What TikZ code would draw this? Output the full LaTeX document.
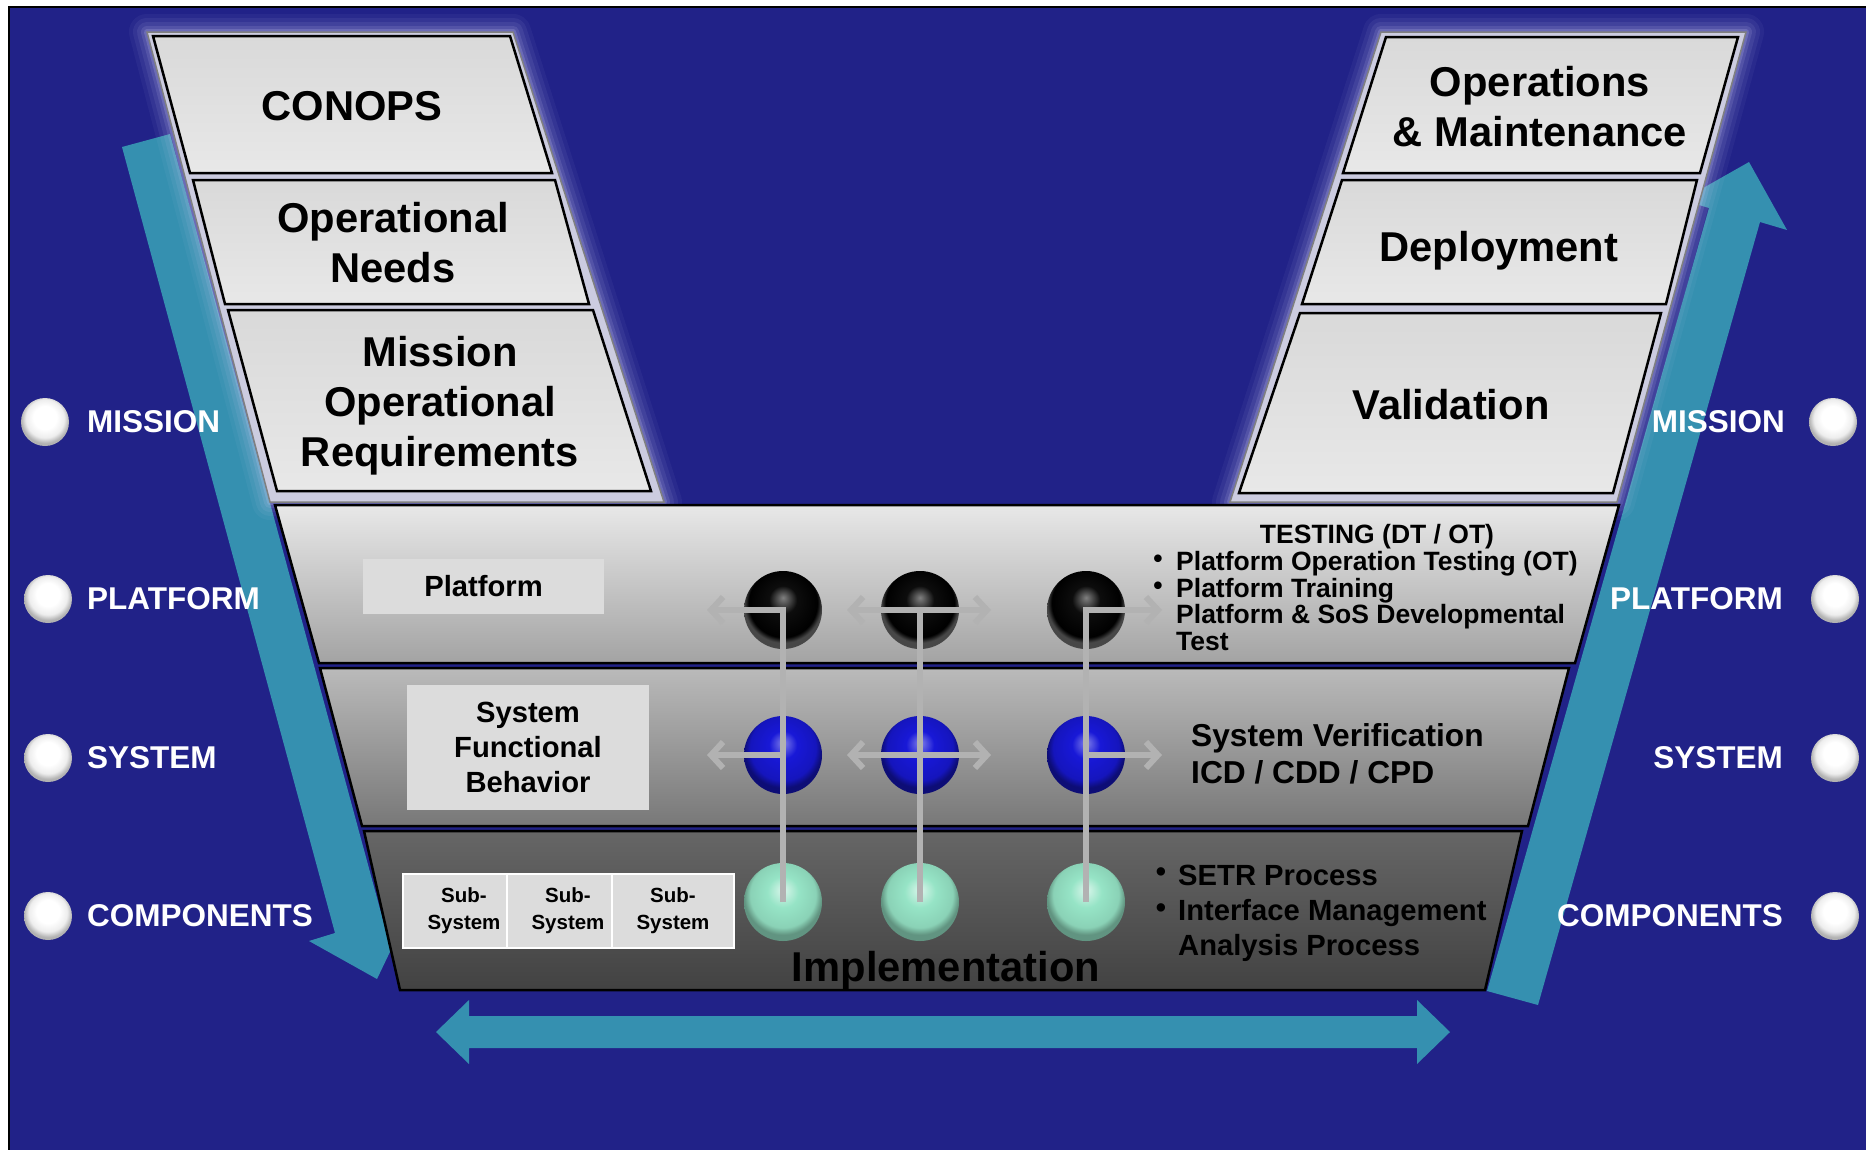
\documentclass[tikz,border=0pt]{standalone}
\usepackage{fontspec}
\setmainfont{Liberation Sans}
\usetikzlibrary{arrows.meta}

\definecolor{bgblue}{RGB}{33,34,136}
\definecolor{vteal}{RGB}{53,144,176}
\definecolor{boxgray}{RGB}{217,217,217}
\definecolor{boxlight}{RGB}{232,232,232}
\definecolor{framelav}{RGB}{204,204,224}
\definecolor{glowcol}{RGB}{205,205,245}
\definecolor{linkgray}{RGB}{178,178,178}
\definecolor{mint}{RGB}{150,228,198}
\definecolor{ballblue}{RGB}{24,24,215}
\definecolor{labelgray}{RGB}{220,220,220}

% glossy sphere shadings (the circle edge sits at 25bp)
\pgfdeclareradialshading{whiteball}{\pgfpoint{0bp}{6bp}}{color(0bp)=(white); color(12bp)=(white); color(20bp)=(black!7); color(25bp)=(black!30); color(50bp)=(black!30)}
\pgfdeclareradialshading{blackball}{\pgfpoint{0bp}{8bp}}{color(0bp)=(black!50); color(9bp)=(black!95); color(22bp)=(black); color(25bp)=(black!72); color(50bp)=(black!72)}
\pgfdeclareradialshading{blueball}{\pgfpoint{0bp}{8bp}}{color(0bp)=(ballblue!55!white); color(9bp)=(ballblue); color(21bp)=(ballblue!88!black); color(25bp)=(ballblue!55!black); color(50bp)=(ballblue!55!black)}
\pgfdeclareradialshading{mintball}{\pgfpoint{0bp}{8bp}}{color(0bp)=(mint!35!white); color(10bp)=(mint); color(21bp)=(mint!92!black); color(25bp)=(mint!65!black); color(50bp)=(mint!65!black)}

\tikzset{
  stackframe/.style={draw=black!50, line width=1.5pt, fill=framelav},
  phasebox/.style={draw=black, line width=2.5pt, top color=boxgray, middle color=boxgray, bottom color=boxlight},
  layer/.style={draw=black, line width=2.5pt},
  phasetext/.style={font=\bfseries\fontsize{41.7}{50}\selectfont, align=center, inner sep=0pt},
  labelbox/.style={fill=labelgray, inner sep=0pt, align=center, font=\bfseries\fontsize{29.2}{35}\selectfont},
  subbox/.style={fill=labelgray, draw=white, line width=2.5pt, inner sep=0pt, minimum width=122pt, minimum height=74pt, align=center, font=\bfseries\fontsize{20.5}{27}\selectfont},
  sidelabel/.style={text=white, inner sep=0pt, font=\bfseries\fontsize{31.5}{36}\selectfont},
  levelball/.style={circle, minimum size=48pt, inner sep=0pt, shading=whiteball},
  vball/.style={circle, minimum size=78pt, inner sep=0pt},
  link/.style={draw=linkgray, line width=6pt, line join=miter},
  headR/.style={-{Straight Barb[length=12pt,width=26pt]}},
  headLR/.style={{Straight Barb[length=12pt,width=26pt]}-{Straight Barb[length=12pt,width=26pt]}},
  notefont/.style={inner sep=0pt, align=left, font=\bfseries\fontsize{26.5}{26.7}\selectfont},
  verfont/.style={inner sep=0pt, align=left, font=\bfseries\fontsize{31.7}{37}\selectfont},
  setrfont/.style={inner sep=0pt, align=left, font=\bfseries\fontsize{29.2}{35}\selectfont},
}

\def\leftframe{(147,32) -- (513,32) -- (664,502) -- (270,502) -- cycle}
\def\rightframe{(1381,32) -- (1746,32) -- (1617,502) -- (1230,502) -- cycle}

\begin{document}
\begin{tikzpicture}[x=1pt,y=-1pt]
\useasboundingbox (0,0) rectangle (1866,1149);
\fill[white] (0,0) rectangle (1866,1149);
\draw[fill=bgblue, draw=black, line width=1.5pt] (9,7) rectangle (1872,1155);

% descending (decomposition) arrow on the left
\fill[vteal] (122,147) -- (170,134) -- (383,920) -- (409,912) -- (377,979)
  -- (309,941) -- (335,933) -- cycle;
% ascending (integration) arrow on the right
\fill[vteal] (1487,991) -- (1709,208) -- (1682,200) -- (1749,162) -- (1787,230)
  -- (1760,222) -- (1538,1005) -- cycle;

% soft halo around the two phase stacks
\foreach \w/\o in {36/0.05, 28/0.07, 20/0.09, 12/0.13, 6/0.2} {
  \draw[draw=glowcol, line width=\w pt, opacity=\o, line join=round] \leftframe;
  \draw[draw=glowcol, line width=\w pt, opacity=\o, line join=round] \rightframe;
}

% left stack: definition phases
\draw[stackframe] \leftframe;
\draw[phasebox] (153,36) -- (510,36) -- (552,173) -- (190,173) -- cycle;
\draw[phasebox] (193,180) -- (555,180) -- (589,304) -- (225,304) -- cycle;
\draw[phasebox] (228,310) -- (593,310) -- (651,491) -- (277,491) -- cycle;
\node[phasetext] (conops) at (352,106) {CONOPS};
\node[phasetext] (opneeds) at (393,243) {Operational\\Needs};
\node[phasetext] (mor) at (440,406) {Mission\\Operational\\Requirements};

% right stack: realisation phases
\draw[stackframe] \rightframe;
\draw[phasebox] (1386,37) -- (1738,37) -- (1700,173) -- (1343,173) -- cycle;
\draw[phasebox] (1342,180) -- (1697,180) -- (1666,304) -- (1302,304) -- cycle;
\draw[phasebox] (1300,313) -- (1661,313) -- (1613,493) -- (1239,493) -- cycle;
\node[phasetext] (om) at (1540,107) {Operations\\\& Maintenance};
\node[phasetext] (deploy) at (1499,251) {Deployment};
\node[phasetext] (valid) at (1451,405) {Validation};

% the three levels of the V
\draw[layer, top color=black!9, middle color=black!11, bottom color=black!36]
  (275,505) -- (1619,505) -- (1575,663) -- (319,663) -- cycle;
\draw[layer, top color=black!27, middle color=black!32, bottom color=black!53]
  (320,668) -- (1569,668) -- (1528,826) -- (362,826) -- cycle;
\draw[layer, top color=black!60, bottom color=black!74]
  (364,831) -- (1522,831) -- (1485,990) -- (400,990) -- cycle;

\node[labelbox, minimum width=241pt, minimum height=55pt] (platbox) at (483.5,586) {Platform};
\node[labelbox, minimum width=242pt, minimum height=125pt] (sfbbox) at (528,747) {System\\Functional\\Behavior};
\node[subbox] (sub1) at (464,911) {Sub-\\System};
\node[subbox] (sub2) at (568,911) {Sub-\\System};
\node[subbox] (sub3) at (673,911) {Sub-\\System};
\node[phasetext] (impl) at (946,971) {Implementation};

% level nodes
\node[vball, shading=blackball] (p1) at (783,610) {};
\node[vball, shading=blackball] (p2) at (920,610) {};
\node[vball, shading=blackball] (p3) at (1086,610) {};
\node[vball, shading=blueball] (s1) at (783,755) {};
\node[vball, shading=blueball] (s2) at (920,755) {};
\node[vball, shading=blueball] (s3) at (1086,755) {};
\node[vball, shading=mintball] (c1) at (783,902) {};
\node[vball, shading=mintball] (c2) at (920,902) {};
\node[vball, shading=mintball] (c3) at (1086,902) {};

\coordinate (p1w) at (707,610);
\coordinate (s1w) at (707,755);
\coordinate (p2w) at (847,610);
\coordinate (p2e) at (991,610);
\coordinate (s2w) at (847,755);
\coordinate (s2e) at (991,755);
\coordinate (p3e) at (1162,610);
\coordinate (s3e) at (1162,755);

\draw[link, headR] (c1.center) -- (p1.center) -- (p1w);
\draw[link, headR] (s1.center) -- (s1w);
\draw[link] (c2.center) -- (p2.center);
\draw[link, headLR] (p2w) -- (p2e);
\draw[link, headLR] (s2w) -- (s2e);
\draw[link, headR] (c3.center) -- (p3.center) -- (p3e);
\draw[link, headR] (s3.center) -- (s3e);

% notes beside each level
\node[notefont, align=center] (testhead) at (1377,536.5) {TESTING (DT / OT)};
\node[notefont] (tb1) at (1158,561) {\textbullet};
\node[notefont] (tb2) at (1158,588) {\textbullet};
\node[notefont, anchor=west] (testlist) at (1176,601) {Platform Operation Testing (OT)\\Platform Training\\Platform \& SoS Developmental\\Test};
\node[verfont, anchor=west] (sysver) at (1191,754) {System Verification\\ICD / CDD / CPD};
\node[setrfont] (sb1) at (1161,875) {\textbullet};
\node[setrfont] (sb2) at (1161,911) {\textbullet};
\node[setrfont, anchor=west] (setr) at (1178,913) {SETR Process\\Interface Management\\Analysis Process};

% level markers on both sides
\node[levelball] (lm) at (45,422) {};
\node[levelball] (lp) at (48,599) {};
\node[levelball] (ls) at (48,758) {};
\node[levelball] (lc) at (48,916) {};
\node[levelball] (rm) at (1833,422) {};
\node[levelball] (rp) at (1835,599) {};
\node[levelball] (rs) at (1835,758) {};
\node[levelball] (rc) at (1835,916) {};
\node[sidelabel, anchor=west] (tlm) at (87,422) {MISSION};
\node[sidelabel, anchor=west] (tlp) at (87,599) {PLATFORM};
\node[sidelabel, anchor=west] (tls) at (87,758) {SYSTEM};
\node[sidelabel, anchor=west] (tlc) at (87,916) {COMPONENTS};
\node[sidelabel, anchor=east] (trm) at (1785,422) {MISSION};
\node[sidelabel, anchor=east] (trp) at (1783,599) {PLATFORM};
\node[sidelabel, anchor=east] (trs) at (1783,758) {SYSTEM};
\node[sidelabel, anchor=east] (trc) at (1783,916) {COMPONENTS};

% horizontal double arrow under the V
\fill[vteal] (436,1032) -- (469,1000) -- (469,1016) -- (1417,1016) -- (1417,1000)
  -- (1450,1032) -- (1417,1064) -- (1417,1048) -- (469,1048) -- (469,1064) -- cycle;
\end{tikzpicture}
\end{document}
